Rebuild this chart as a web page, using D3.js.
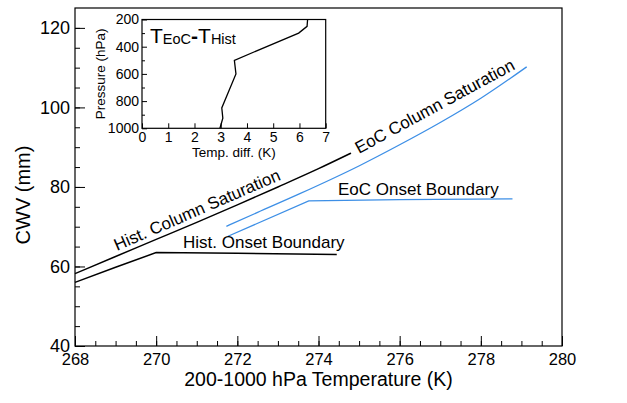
<!DOCTYPE html>
<html>
<head>
<meta charset="utf-8">
<script src="https://cdn.jsdelivr.net/npm/d3@7"></script>
<style>
  body { margin: 0; background: #fff; }
  svg text { font-family: "Liberation Sans", Arial, Helvetica, sans-serif; fill: #000; }
</style>
</head>
<body>
<div id="chart"></div>
<script>
var width = 627;
var height = 403;

// main chart data: [temperature K, CWV mm]
var histColSat = [[268, 58.2], [269, 62.5], [270, 66.8], [271, 71.1], [272, 75.5], [273, 80.0], [274, 84.6], [274.8, 88.5]];
var histOnset = [[268, 56.0], [269, 59.8], [270.0, 63.5], [272, 63.3], [274.45, 63.0]];
var eocColSat = [[271.73, 70.1], [272.5, 73.6], [273.54, 78.3], [275.02, 85.4], [276, 90.6], [277, 96.2], [278, 102.3], [279.13, 110.2]];
var eocOnset = [[271.77, 67.6], [273.76, 76.5], [276, 76.8], [278.78, 77.0]];

var xTicks = [268, 270, 272, 274, 276, 278, 280];
var yTicks = [40, 60, 80, 100, 120];

// inset data: temperature difference (K) by pressure level (hPa)
var pressure = [200, 250, 300, 500, 600, 850, 925, 1000];
var tempDiff = [6.31, 6.29, 5.97, 3.52, 3.58, 3.04, 3.08, 2.97];
var insetXTicks = [0, 1, 2, 3, 4, 5, 6, 7];
var insetYTicks = [200, 400, 600, 800, 1000];

var svg = d3.select('#chart').append('svg')
  .attr('width', width)
  .attr('height', height);

var pLeft = 75, pRight = 562, pTop = 8, pBottom = 346;

var xScale = d3.scaleLinear().domain([268, 280]).range([pLeft, pRight]);
var yScale = d3.scaleLinear().domain([40, 125]).range([pBottom, pTop]);
var fmt = d3.format('d');

// minor ticks
svg.append('g')
  .attr('transform', 'translate(0,' + pBottom + ')')
  .call(d3.axisBottom(xScale).tickValues(d3.range(268.5, 280, 0.5)).tickSize(-5).tickFormat(''))
  .call(g => g.select('.domain').remove());
svg.append('g')
  .attr('transform', 'translate(' + pLeft + ',0)')
  .call(d3.axisLeft(yScale).tickValues(d3.range(45, 125, 5)).tickSize(-5).tickFormat(''))
  .call(g => g.select('.domain').remove());

// major ticks + labels
var xAxis = svg.append('g')
  .attr('transform', 'translate(0,' + pBottom + ')')
  .call(d3.axisBottom(xScale).tickValues(xTicks).tickSize(-10).tickPadding(7).tickFormat(fmt));
xAxis.select('.domain').remove();
xAxis.selectAll('text').attr('font-size', 16.5).attr('dy', '0.75em');

var yAxis = svg.append('g')
  .attr('transform', 'translate(' + pLeft + ',0)')
  .call(d3.axisLeft(yScale).tickValues(yTicks).tickSize(-10).tickPadding(5).tickFormat(fmt));
yAxis.select('.domain').remove();
yAxis.selectAll('text').attr('font-size', 18);

svg.append('rect')
  .attr('x', pLeft).attr('y', pTop)
  .attr('width', pRight - pLeft).attr('height', pBottom - pTop)
  .attr('fill', 'none').attr('stroke', '#000').attr('stroke-width', 1.2);

// axis titles
svg.append('text')
  .attr('x', (pLeft + pRight) / 2).attr('y', 386)
  .attr('text-anchor', 'middle').attr('font-size', 19.5)
  .text('200-1000 hPa Temperature (K)');
svg.append('text')
  .attr('transform', 'translate(30,195) rotate(-90)')
  .attr('text-anchor', 'middle').attr('font-size', 20)
  .text('CWV (mm)');

// lines
var line = d3.line().x(d => xScale(d[0])).y(d => yScale(d[1]));
var smooth = d3.line().curve(d3.curveMonotoneX).x(d => xScale(d[0])).y(d => yScale(d[1]));
var series = [
  { data: histColSat, color: '#000', w: 1.5, gen: smooth },
  { data: histOnset, color: '#000', w: 1.5, gen: line },
  { data: eocColSat, color: '#3d8fe6', w: 1.3, gen: smooth },
  { data: eocOnset, color: '#3d8fe6', w: 1.3, gen: line }
];
svg.selectAll('.series')
  .data(series)
  .enter()
  .append('path')
  .attr('class', 'series')
  .attr('d', d => d.gen(d.data))
  .attr('fill', 'none')
  .attr('stroke', d => d.color)
  .attr('stroke-width', d => d.w);

// line labels
var labels = [
  { text: 'Hist. Column Saturation', x: 117, y: 251, rot: -23.5 },
  { text: 'EoC Column Saturation', x: 359, y: 154, rot: -28.5 },
  { text: 'Hist. Onset Boundary', x: 183, y: 248, rot: 0 },
  { text: 'EoC Onset Boundary', x: 338, y: 195, rot: 0 }
];
svg.selectAll('.lbl')
  .data(labels)
  .enter()
  .append('text')
  .attr('class', 'lbl')
  .attr('font-size', 17)
  .attr('transform', d => 'translate(' + d.x + ',' + d.y + ') rotate(' + d.rot + ')')
  .text(d => d.text);

// inset
var iLeft = 142, iRight = 325.7, iTop = 19.5, iBottom = 128.3;
var ix = d3.scaleLinear().domain([0, 7]).range([iLeft, iRight]);
var iy = d3.scaleLinear().domain([200, 1000]).range([iTop, iBottom]);

svg.append('rect')
  .attr('x', iLeft).attr('y', iTop)
  .attr('width', iRight - iLeft).attr('height', iBottom - iTop)
  .attr('fill', '#fff');

svg.append('g')
  .attr('transform', 'translate(' + iLeft + ',0)')
  .call(d3.axisLeft(iy).tickValues(d3.range(300, 1000, 200)).tickSize(-3).tickFormat(''))
  .call(g => g.select('.domain').remove());

var ixAxis = svg.append('g')
  .attr('transform', 'translate(0,' + iBottom + ')')
  .call(d3.axisBottom(ix).tickValues(insetXTicks).tickSize(-5).tickPadding(3).tickFormat(fmt));
ixAxis.select('.domain').remove();
ixAxis.selectAll('text').attr('font-size', 14).attr('dy', '0.75em');

var iyAxis = svg.append('g')
  .attr('transform', 'translate(' + iLeft + ',0)')
  .call(d3.axisLeft(iy).tickValues(insetYTicks).tickSize(-5).tickPadding(3).tickFormat(fmt));
iyAxis.select('.domain').remove();
iyAxis.selectAll('text').attr('font-size', 14);

svg.selectAll('.tick line').attr('stroke', '#000').attr('stroke-width', 1);

svg.append('rect')
  .attr('x', iLeft).attr('y', iTop)
  .attr('width', iRight - iLeft).attr('height', iBottom - iTop)
  .attr('fill', 'none').attr('stroke', '#000').attr('stroke-width', 1.2);

var insetPts = pressure.map((p, i) => [tempDiff[i], p]);
svg.append('path')
  .attr('d', d3.line().x(d => ix(d[0])).y(d => iy(d[1]))(insetPts))
  .attr('fill', 'none').attr('stroke', '#000').attr('stroke-width', 1.3);

svg.append('text')
  .attr('x', (iLeft + iRight) / 2).attr('y', 157)
  .attr('text-anchor', 'middle').attr('font-size', 13.5)
  .text('Temp. diff. (K)');
svg.append('text')
  .attr('transform', 'translate(105,' + ((iTop + iBottom) / 2) + ') rotate(-90)')
  .attr('text-anchor', 'middle').attr('font-size', 13.5)
  .text('Pressure (hPa)');

var title = svg.append('text').attr('x', 150).attr('y', 43).attr('font-size', 21);
title.append('tspan').text('T');
title.append('tspan').attr('font-size', 14.5).attr('dy', 1).text('EoC');
title.append('tspan').attr('dy', -1).attr('font-weight', 'bold').text('-');
title.append('tspan').text('T');
title.append('tspan').attr('font-size', 14.5).attr('dy', 1).text('Hist');
</script>
</body>
</html>
